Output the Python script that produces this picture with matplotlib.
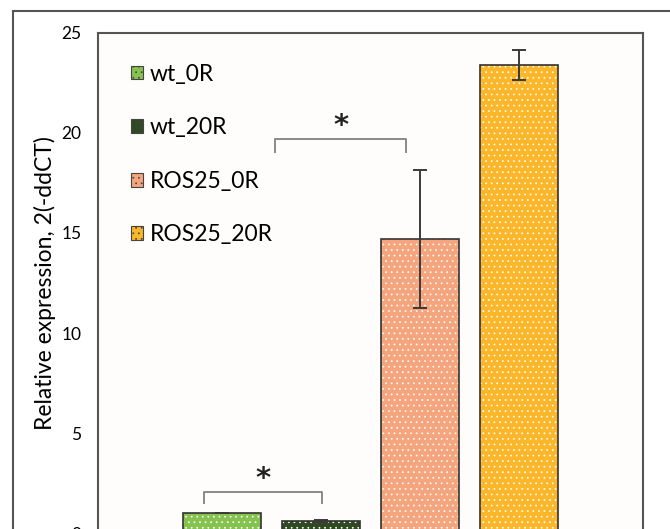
import matplotlib
matplotlib.use("Agg")
import matplotlib.pyplot as plt
from matplotlib.patches import Rectangle

GROUPS = ["wt_0R", "wt_20R", "ROS25_0R", "ROS25_20R"]
MEANS = [1.0, 0.6, 14.7, 23.4]
ERRS = [0.0, 0.07, 3.45, 0.75]
COLORS = ["#86c24e", "#2f4a22", "#f5a57e", "#fbb62a"]
YTICKS = [0, 5, 10, 15, 20, 25]

# significance brackets: (x_left, x_right, y_bar, y_leg)
BRACKETS = [(-0.18, 1.01, 2.05, 1.5), (0.535, 1.86, 19.7, 19.05)]

plt.rcParams["font.family"] = ["Lato", "DejaVu Sans"]
plt.rcParams["hatch.linewidth"] = 0.5

fig = plt.figure(figsize=(6.70, 5.29), dpi=100)
W, H = 670, 529
# axes: left 98px, right 643px, top 33px, zero line just below the bottom edge
ax = fig.add_axes([98 / W, (H - 533) / H, (643 - 98) / W, (533 - 33) / H])
ax.set_facecolor("#fefdfc")

xs = list(range(len(GROUPS)))
# fill + white dots first, then the outline on top
ax.bar(xs, MEANS, width=0.79, color=COLORS, edgecolor="white", linewidth=0,
       hatch="...", zorder=2)
bars = ax.bar(xs, MEANS, width=0.79, color="none", edgecolor="#333333",
              linewidth=1.2, zorder=3)
ax.errorbar(xs, MEANS, yerr=ERRS, fmt="none", ecolor="#3a3a3a",
            elinewidth=1.4, capsize=5, capthick=1.4, zorder=4)

for x0, x1, yb, yl in BRACKETS:
    ax.plot([x0, x0, x1, x1], [yl, yb, yb, yl], color="#8a8a8a", lw=1.4,
            solid_joinstyle="round", zorder=4)
    ax.text((x0 + x1) / 2, yb - 0.05, "*", ha="center", va="bottom",
            fontsize=21, color="#222222", family="DejaVu Sans",
            fontweight="bold")

ax.set_xlim(-1.253, 4.253)
ax.set_ylim(0, 25)
ax.set_yticks(YTICKS)
ax.tick_params(axis="y", length=0, pad=12, labelsize=12.5)
ax.set_xticks([])
for s in ax.spines.values():
    s.set_color("#555555")
    s.set_linewidth(1.5)
ax.set_ylabel("Relative expression, 2(-ddCT)", fontsize=16.5, labelpad=4)

handles = []
for c in COLORS:
    handles.append(Rectangle((0, 0), 1, 1, facecolor=c, edgecolor="#444444",
                             linewidth=0.8, hatch="..."))
leg = ax.legend(handles, GROUPS, loc="upper left", bbox_to_anchor=(0.022, 0.98),
                frameon=False, fontsize=16.5, handlelength=0.55, handleheight=0.55,
                handletextpad=0.3, labelspacing=1.42)
for p in leg.get_patches():
    p.set_edgecolor("#444444")

# outer frame around the whole panel
fig.patches.append(Rectangle((13 / W, -0.1), 1.2, (H - 11) / H + 0.1,
                             transform=fig.transFigure, fill=False,
                             edgecolor="#555555", linewidth=1.5))

fig.savefig("out.png", dpi=100, facecolor="white")
